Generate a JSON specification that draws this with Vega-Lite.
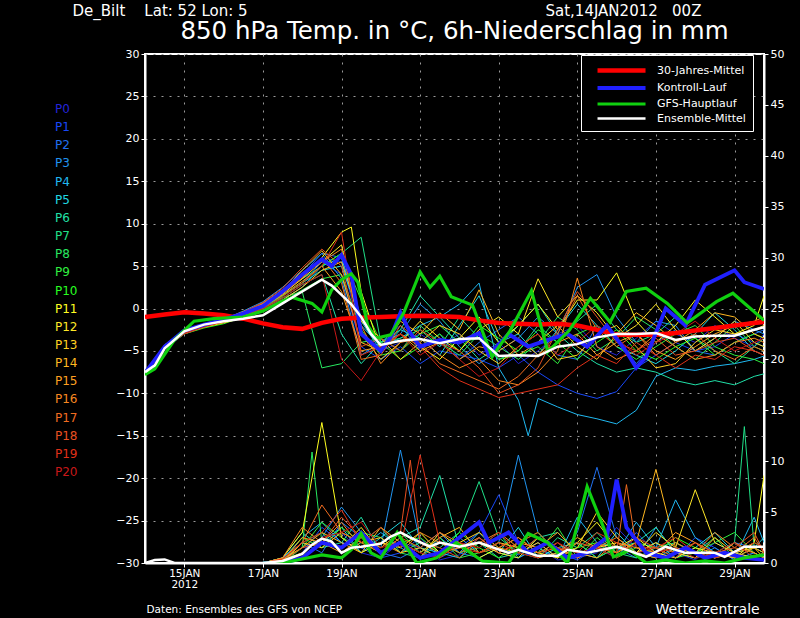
{
  "$schema": "https://vega.github.io/schema/vega-lite/v6.json",
  "width": 619,
  "height": 509,
  "autosize": {"type": "none"},
  "padding": {"left": 145, "top": 54, "right": 36, "bottom": 55},
  "background": "black",
  "config": {
    "view": {"stroke": "white", "strokeWidth": 2},
    "font": "DejaVu Sans",
    "axis": {
      "labelColor": "white", "tickColor": "white", "domainColor": "white", "domainWidth": 2,
      "tickSize": 4, "labelFontSize": 11, "labelPadding": 2, "titleColor": "white",
      "titleFontWeight": "normal", "gridColor": "#9a9a9a", "gridDash": [2, 6], "gridWidth": 1
    },
    "legend": {"labelColor": "white", "labelFont": "DejaVu Sans"}
  },
  "title": {
    "text": "850 hPa Temp. in °C, 6h-Niederschlag in mm",
    "color": "white", "fontSize": 24.5, "fontWeight": "normal", "font": "DejaVu Sans",
    "anchor": "middle", "frame": "group", "baseline": "alphabetic", "offset": 0, "dy": 60
  },
  "datasets": {
    "members": [
      {"m":"P0","h":0,"t":-7.6},{"m":"P0","h":12,"t":-4.6},{"m":"P0","h":24,"t":-2.7},{"m":"P0","h":36,"t":-1.9},{"m":"P0","h":48,"t":-1.2},{"m":"P0","h":60,"t":-0.5},{"m":"P0","h":72,"t":0.3,"p":0},{"m":"P0","h":84,"t":1.8,"p":0.3},{"m":"P0","h":96,"t":3.5,"p":1.5},{"m":"P0","h":108,"t":6,"p":2},{"m":"P0","h":120,"t":5.5,"p":3},{"m":"P0","h":132,"t":-3,"p":1},{"m":"P0","h":144,"t":-5,"p":0.5},{"m":"P0","h":156,"t":-4,"p":2},{"m":"P0","h":168,"t":-3,"p":1.5},{"m":"P0","h":180,"t":-4.5,"p":0.3},{"m":"P0","h":192,"t":-3,"p":0.8},{"m":"P0","h":204,"t":-5.5,"p":2.5},{"m":"P0","h":216,"t":-4,"p":1},{"m":"P0","h":228,"t":-6.5,"p":0.5},{"m":"P0","h":240,"t":-5,"p":1.5},{"m":"P0","h":252,"t":-3,"p":0.3},{"m":"P0","h":264,"t":-2,"p":0.5},{"m":"P0","h":276,"t":-4.5,"p":1},{"m":"P0","h":288,"t":-5.5,"p":3.5},{"m":"P0","h":300,"t":-3.5,"p":1.5},{"m":"P0","h":312,"t":-1.5,"p":0.5},{"m":"P0","h":324,"t":-3,"p":1},{"m":"P0","h":336,"t":-4,"p":0.3},{"m":"P0","h":348,"t":-2,"p":2},{"m":"P0","h":360,"t":-3.5,"p":1},{"m":"P0","h":372,"t":-4.5,"p":0.5},{"m":"P0","h":378,"t":-3,"p":0.3},
      {"m":"P1","h":0,"t":-7.6},{"m":"P1","h":12,"t":-4.4},{"m":"P1","h":24,"t":-2.9},{"m":"P1","h":36,"t":-2.1},{"m":"P1","h":48,"t":-1.5},{"m":"P1","h":60,"t":-0.8},{"m":"P1","h":72,"t":0,"p":0},{"m":"P1","h":84,"t":1.5,"p":0},{"m":"P1","h":96,"t":3,"p":1},{"m":"P1","h":108,"t":5.5,"p":3.5},{"m":"P1","h":120,"t":4,"p":2},{"m":"P1","h":132,"t":-4.5,"p":1.5},{"m":"P1","h":144,"t":-6,"p":0.5},{"m":"P1","h":156,"t":-4.5,"p":1},{"m":"P1","h":168,"t":-6.5,"p":2.5},{"m":"P1","h":180,"t":-5,"p":0.5},{"m":"P1","h":192,"t":-5.5,"p":1.5},{"m":"P1","h":204,"t":-6,"p":3},{"m":"P1","h":216,"t":-7,"p":6.7},{"m":"P1","h":228,"t":-5.5,"p":2},{"m":"P1","h":240,"t":-7.5,"p":0.5},{"m":"P1","h":252,"t":-9,"p":1},{"m":"P1","h":264,"t":-10,"p":0.3},{"m":"P1","h":276,"t":-10.6,"p":1.5},{"m":"P1","h":288,"t":-9.8,"p":0.5},{"m":"P1","h":300,"t":-7,"p":3},{"m":"P1","h":312,"t":-5.5,"p":1},{"m":"P1","h":324,"t":-4,"p":0.5},{"m":"P1","h":336,"t":-5,"p":2.5},{"m":"P1","h":348,"t":-4.5,"p":1.5},{"m":"P1","h":360,"t":-3,"p":0.3},{"m":"P1","h":372,"t":-4,"p":1},{"m":"P1","h":378,"t":-4.5,"p":0.5},
      {"m":"P2","h":0,"t":-7.7},{"m":"P2","h":12,"t":-4.8},{"m":"P2","h":24,"t":-3},{"m":"P2","h":36,"t":-2.2},{"m":"P2","h":48,"t":-1.4},{"m":"P2","h":60,"t":-0.6},{"m":"P2","h":72,"t":0.5,"p":0},{"m":"P2","h":84,"t":2,"p":0.5},{"m":"P2","h":96,"t":4,"p":2},{"m":"P2","h":108,"t":6.5,"p":1},{"m":"P2","h":120,"t":6,"p":4},{"m":"P2","h":132,"t":-1,"p":2.5},{"m":"P2","h":144,"t":-4,"p":1},{"m":"P2","h":156,"t":-2,"p":0.5},{"m":"P2","h":168,"t":-5,"p":1.5},{"m":"P2","h":180,"t":-3,"p":3},{"m":"P2","h":192,"t":-6,"p":1},{"m":"P2","h":204,"t":-4,"p":0.5},{"m":"P2","h":216,"t":-2.5,"p":1.5},{"m":"P2","h":228,"t":-1,"p":0.8},{"m":"P2","h":240,"t":-3,"p":2},{"m":"P2","h":252,"t":-5.5,"p":0.5},{"m":"P2","h":264,"t":-6,"p":3},{"m":"P2","h":276,"t":-2,"p":9.4},{"m":"P2","h":288,"t":-3.5,"p":2.5},{"m":"P2","h":300,"t":-6.5,"p":1},{"m":"P2","h":312,"t":-4,"p":0.5},{"m":"P2","h":324,"t":-2.5,"p":1.5},{"m":"P2","h":336,"t":-5,"p":1},{"m":"P2","h":348,"t":-5.5,"p":0.5},{"m":"P2","h":360,"t":-4,"p":2},{"m":"P2","h":372,"t":-3,"p":1.5},{"m":"P2","h":378,"t":-2.5,"p":1},
      {"m":"P3","h":0,"t":-7.5},{"m":"P3","h":12,"t":-4.3},{"m":"P3","h":24,"t":-2.6},{"m":"P3","h":36,"t":-1.8},{"m":"P3","h":48,"t":-1.3},{"m":"P3","h":60,"t":-0.3},{"m":"P3","h":72,"t":0.8,"p":0},{"m":"P3","h":84,"t":2.5,"p":0.2},{"m":"P3","h":96,"t":4.5,"p":1},{"m":"P3","h":108,"t":6.5,"p":2.5},{"m":"P3","h":120,"t":3.5,"p":5.5},{"m":"P3","h":132,"t":-5.5,"p":3},{"m":"P3","h":144,"t":-4,"p":1.5},{"m":"P3","h":156,"t":-3,"p":11.1},{"m":"P3","h":168,"t":0.5,"p":2},{"m":"P3","h":180,"t":-1.5,"p":1},{"m":"P3","h":192,"t":-4.5,"p":2.5},{"m":"P3","h":204,"t":-6.5,"p":1},{"m":"P3","h":216,"t":-5,"p":2},{"m":"P3","h":228,"t":-3.5,"p":10.6},{"m":"P3","h":240,"t":-1,"p":3},{"m":"P3","h":252,"t":-3,"p":1},{"m":"P3","h":264,"t":2.5,"p":0.5},{"m":"P3","h":276,"t":4,"p":2},{"m":"P3","h":288,"t":-1,"p":1.5},{"m":"P3","h":300,"t":-4,"p":0.5},{"m":"P3","h":312,"t":-1.5,"p":3.5},{"m":"P3","h":324,"t":-2,"p":1},{"m":"P3","h":336,"t":-5,"p":0.5},{"m":"P3","h":348,"t":-3.5,"p":1.5},{"m":"P3","h":360,"t":-1.5,"p":0.3},{"m":"P3","h":372,"t":-2.5,"p":1},{"m":"P3","h":378,"t":-3,"p":0.5},
      {"m":"P4","h":0,"t":-7.6},{"m":"P4","h":12,"t":-4.5},{"m":"P4","h":24,"t":-2.8},{"m":"P4","h":36,"t":-2},{"m":"P4","h":48,"t":-1.6},{"m":"P4","h":60,"t":-1},{"m":"P4","h":72,"t":-0.2,"p":0},{"m":"P4","h":84,"t":1,"p":0.4},{"m":"P4","h":96,"t":2.5,"p":2.5},{"m":"P4","h":108,"t":5,"p":4},{"m":"P4","h":120,"t":6,"p":2},{"m":"P4","h":132,"t":-2,"p":1.5},{"m":"P4","h":144,"t":-4.5,"p":3},{"m":"P4","h":156,"t":-3.5,"p":1.5},{"m":"P4","h":168,"t":-2,"p":0.5},{"m":"P4","h":180,"t":-1,"p":2.5},{"m":"P4","h":192,"t":0.5,"p":1},{"m":"P4","h":204,"t":3,"p":3},{"m":"P4","h":216,"t":-7,"p":1},{"m":"P4","h":228,"t":-10.8,"p":0.5},{"m":"P4","h":234,"t":-15},{"m":"P4","h":240,"t":-10.6,"p":1.5},{"m":"P4","h":252,"t":-11.6,"p":0.5},{"m":"P4","h":264,"t":-12.5,"p":4.5},{"m":"P4","h":276,"t":-13,"p":2},{"m":"P4","h":288,"t":-13.6,"p":1},{"m":"P4","h":300,"t":-12,"p":4},{"m":"P4","h":312,"t":-8,"p":1.5},{"m":"P4","h":324,"t":-7,"p":6.2},{"m":"P4","h":336,"t":-7.3,"p":2.5},{"m":"P4","h":348,"t":-6.8,"p":1},{"m":"P4","h":360,"t":-6.5,"p":0.5},{"m":"P4","h":372,"t":-6,"p":4.5},{"m":"P4","h":378,"t":-5.6,"p":2},
      {"m":"P5","h":0,"t":-7.6},{"m":"P5","h":12,"t":-4.7},{"m":"P5","h":24,"t":-2.9},{"m":"P5","h":36,"t":-2},{"m":"P5","h":48,"t":-1.3},{"m":"P5","h":60,"t":-0.7},{"m":"P5","h":72,"t":0.2,"p":0},{"m":"P5","h":84,"t":1.5,"p":0},{"m":"P5","h":96,"t":3,"p":0.5},{"m":"P5","h":108,"t":4.5,"p":2},{"m":"P5","h":120,"t":5,"p":3.5},{"m":"P5","h":132,"t":-1.5,"p":1},{"m":"P5","h":144,"t":-5,"p":2.5},{"m":"P5","h":156,"t":-2.5,"p":4},{"m":"P5","h":168,"t":-3.5,"p":1.5},{"m":"P5","h":180,"t":-5.5,"p":1},{"m":"P5","h":192,"t":-2,"p":0.5},{"m":"P5","h":204,"t":1.5,"p":2},{"m":"P5","h":216,"t":-4,"p":1},{"m":"P5","h":228,"t":-3,"p":3.5},{"m":"P5","h":240,"t":-5.5,"p":0.5},{"m":"P5","h":252,"t":-2.5,"p":1.5},{"m":"P5","h":264,"t":0.5,"p":2},{"m":"P5","h":276,"t":-2,"p":0.5},{"m":"P5","h":288,"t":-4.5,"p":3},{"m":"P5","h":300,"t":-5.5,"p":1},{"m":"P5","h":312,"t":-6.5,"p":2},{"m":"P5","h":324,"t":-5,"p":0.5},{"m":"P5","h":336,"t":-3,"p":1.5},{"m":"P5","h":348,"t":-0.5,"p":3},{"m":"P5","h":360,"t":-2.5,"p":1},{"m":"P5","h":372,"t":-5,"p":1.5},{"m":"P5","h":378,"t":-5.5,"p":2.5},
      {"m":"P6","h":0,"t":-7.7},{"m":"P6","h":12,"t":-4.5},{"m":"P6","h":24,"t":-2.8},{"m":"P6","h":36,"t":-1.9},{"m":"P6","h":48,"t":-1.4},{"m":"P6","h":60,"t":-0.9},{"m":"P6","h":72,"t":0,"p":0},{"m":"P6","h":84,"t":1.2,"p":0.5},{"m":"P6","h":96,"t":2.8,"p":3},{"m":"P6","h":108,"t":4,"p":1.5},{"m":"P6","h":120,"t":-3,"p":2},{"m":"P6","h":132,"t":-6.5,"p":4.5},{"m":"P6","h":144,"t":-4,"p":1},{"m":"P6","h":156,"t":-2.5,"p":2.5},{"m":"P6","h":168,"t":1.5,"p":3.5},{"m":"P6","h":180,"t":-1,"p":8.6},{"m":"P6","h":192,"t":-3.5,"p":1.5},{"m":"P6","h":204,"t":-6,"p":2},{"m":"P6","h":216,"t":-4.5,"p":0.5},{"m":"P6","h":228,"t":-2,"p":1},{"m":"P6","h":240,"t":0.5,"p":2.5},{"m":"P6","h":252,"t":-3,"p":3},{"m":"P6","h":264,"t":-5,"p":1},{"m":"P6","h":276,"t":-6.5,"p":0.5},{"m":"P6","h":288,"t":-7.5,"p":1.5},{"m":"P6","h":300,"t":-7,"p":2},{"m":"P6","h":312,"t":-7.5,"p":3.5},{"m":"P6","h":324,"t":-8.5,"p":1},{"m":"P6","h":336,"t":-9,"p":0.5},{"m":"P6","h":348,"t":-8.5,"p":1},{"m":"P6","h":360,"t":-9,"p":2},{"m":"P6","h":372,"t":-8,"p":0.5},{"m":"P6","h":378,"t":-7.7,"p":1},
      {"m":"P7","h":0,"t":-7.6},{"m":"P7","h":12,"t":-4.4},{"m":"P7","h":24,"t":-2.7},{"m":"P7","h":36,"t":-2},{"m":"P7","h":48,"t":-1.5},{"m":"P7","h":60,"t":-0.6},{"m":"P7","h":72,"t":0.6,"p":0},{"m":"P7","h":84,"t":2.2,"p":0.2},{"m":"P7","h":96,"t":3.5,"p":2},{"m":"P7","h":108,"t":5,"p":3},{"m":"P7","h":120,"t":6.5,"p":1},{"m":"P7","h":132,"t":8.4,"p":2},{"m":"P7","h":144,"t":-4,"p":3.5},{"m":"P7","h":156,"t":-3.5,"p":1},{"m":"P7","h":168,"t":-2.5,"p":2},{"m":"P7","h":180,"t":-4.5,"p":1.5},{"m":"P7","h":192,"t":-1,"p":3},{"m":"P7","h":204,"t":-3.5,"p":8},{"m":"P7","h":216,"t":-6,"p":2.5},{"m":"P7","h":228,"t":-5,"p":1},{"m":"P7","h":240,"t":-2,"p":0.5},{"m":"P7","h":252,"t":-4,"p":2.5},{"m":"P7","h":264,"t":-1.5,"p":1.5},{"m":"P7","h":276,"t":0.5,"p":3},{"m":"P7","h":288,"t":-2.5,"p":1},{"m":"P7","h":300,"t":-4,"p":0.5},{"m":"P7","h":312,"t":-3,"p":1.5},{"m":"P7","h":324,"t":-1,"p":2},{"m":"P7","h":336,"t":-3.5,"p":1},{"m":"P7","h":348,"t":-5,"p":0.5},{"m":"P7","h":360,"t":-6.5,"p":2},{"m":"P7","h":366,"p":13.4},{"m":"P7","h":372,"t":-4.5,"p":1.5},{"m":"P7","h":378,"t":-3.5,"p":1},
      {"m":"P8","h":0,"t":-7.6},{"m":"P8","h":12,"t":-4.6},{"m":"P8","h":24,"t":-2.9},{"m":"P8","h":36,"t":-2.1},{"m":"P8","h":48,"t":-1.6},{"m":"P8","h":60,"t":-0.8},{"m":"P8","h":72,"t":0.2,"p":0},{"m":"P8","h":84,"t":1.3,"p":0.3},{"m":"P8","h":96,"t":2,"p":1.5},{"m":"P8","h":102,"p":10.9},{"m":"P8","h":108,"t":-7,"p":2},{"m":"P8","h":120,"t":-6.5,"p":1.5},{"m":"P8","h":132,"t":-4,"p":3},{"m":"P8","h":144,"t":-3.5,"p":2.5},{"m":"P8","h":156,"t":-5,"p":1},{"m":"P8","h":168,"t":-2,"p":0.5},{"m":"P8","h":180,"t":-4,"p":2},{"m":"P8","h":192,"t":-5.5,"p":1},{"m":"P8","h":204,"t":-3,"p":1.5},{"m":"P8","h":216,"t":-4.5,"p":3},{"m":"P8","h":228,"t":-6,"p":0.5},{"m":"P8","h":240,"t":-4,"p":2.5},{"m":"P8","h":252,"t":-1,"p":1},{"m":"P8","h":264,"t":-2.5,"p":2},{"m":"P8","h":276,"t":-5,"p":0.5},{"m":"P8","h":288,"t":-3.5,"p":1.5},{"m":"P8","h":300,"t":-1,"p":1},{"m":"P8","h":312,"t":-2.5,"p":0.5},{"m":"P8","h":324,"t":-4.5,"p":2},{"m":"P8","h":336,"t":-6,"p":1},{"m":"P8","h":348,"t":-4,"p":2.5},{"m":"P8","h":360,"t":-2,"p":0.5},{"m":"P8","h":372,"t":-4.5,"p":1.5},{"m":"P8","h":378,"t":-5,"p":1},
      {"m":"P9","h":0,"t":-7.6},{"m":"P9","h":12,"t":-4.5},{"m":"P9","h":24,"t":-2.8},{"m":"P9","h":36,"t":-2},{"m":"P9","h":48,"t":-1.5},{"m":"P9","h":60,"t":-1},{"m":"P9","h":72,"t":-0.3,"p":0},{"m":"P9","h":84,"t":0.8,"p":0},{"m":"P9","h":96,"t":2.2,"p":1.5},{"m":"P9","h":108,"t":3.5,"p":4},{"m":"P9","h":120,"t":4,"p":2.5},{"m":"P9","h":132,"t":-2.5,"p":1.5},{"m":"P9","h":144,"t":-5.5,"p":2},{"m":"P9","h":156,"t":-5,"p":3},{"m":"P9","h":168,"t":-3,"p":1},{"m":"P9","h":180,"t":-2,"p":2.5},{"m":"P9","h":192,"t":-4,"p":0.5},{"m":"P9","h":204,"t":-3.5,"p":1},{"m":"P9","h":216,"t":-6,"p":2},{"m":"P9","h":228,"t":-5.5,"p":1.5},{"m":"P9","h":240,"t":-4.5,"p":1},{"m":"P9","h":252,"t":-6.5,"p":3.5},{"m":"P9","h":264,"t":-3,"p":0.5},{"m":"P9","h":276,"t":-2,"p":2.5},{"m":"P9","h":288,"t":-4.5,"p":1},{"m":"P9","h":300,"t":-6,"p":2},{"m":"P9","h":312,"t":-4.5,"p":1.5},{"m":"P9","h":324,"t":-3,"p":0.5},{"m":"P9","h":336,"t":-2,"p":1},{"m":"P9","h":348,"t":-4.5,"p":2},{"m":"P9","h":360,"t":-5.5,"p":3},{"m":"P9","h":372,"t":-6,"p":1},{"m":"P9","h":378,"t":-6.5,"p":0.5},
      {"m":"P10","h":0,"t":-7.7},{"m":"P10","h":12,"t":-4.7},{"m":"P10","h":24,"t":-3},{"m":"P10","h":36,"t":-2.3},{"m":"P10","h":48,"t":-1.8},{"m":"P10","h":60,"t":-1},{"m":"P10","h":72,"t":0,"p":0},{"m":"P10","h":84,"t":1.5,"p":0.2},{"m":"P10","h":96,"t":3,"p":2.5},{"m":"P10","h":108,"t":5,"p":1.5},{"m":"P10","h":120,"t":6.5,"p":3.5},{"m":"P10","h":132,"t":1,"p":2},{"m":"P10","h":144,"t":-4,"p":1},{"m":"P10","h":156,"t":-6,"p":2},{"m":"P10","h":168,"t":-4.5,"p":2.5},{"m":"P10","h":180,"t":-3,"p":1},{"m":"P10","h":192,"t":-5,"p":3},{"m":"P10","h":204,"t":-2,"p":1.5},{"m":"P10","h":216,"t":-3.5,"p":0.5},{"m":"P10","h":228,"t":-5,"p":2},{"m":"P10","h":240,"t":-2.5,"p":3},{"m":"P10","h":252,"t":-4,"p":1},{"m":"P10","h":264,"t":-6,"p":1.5},{"m":"P10","h":276,"t":-4,"p":2},{"m":"P10","h":288,"t":-2.5,"p":0.5},{"m":"P10","h":300,"t":-5,"p":1.5},{"m":"P10","h":312,"t":-6,"p":1},{"m":"P10","h":324,"t":-4.5,"p":2.5},{"m":"P10","h":336,"t":-3.5,"p":1.5},{"m":"P10","h":348,"t":-5.5,"p":0.5},{"m":"P10","h":360,"t":-4,"p":1},{"m":"P10","h":372,"t":-3,"p":2},{"m":"P10","h":378,"t":-3.5,"p":1.5},
      {"m":"P11","h":0,"t":-7.6},{"m":"P11","h":12,"t":-4.3},{"m":"P11","h":24,"t":-2.6},{"m":"P11","h":36,"t":-1.8},{"m":"P11","h":48,"t":-1.3},{"m":"P11","h":60,"t":-0.4},{"m":"P11","h":72,"t":0.5,"p":0},{"m":"P11","h":84,"t":2,"p":0.5},{"m":"P11","h":96,"t":3.8,"p":3},{"m":"P11","h":108,"t":6,"p":13.8},{"m":"P11","h":120,"t":9,"p":2.5},{"m":"P11","h":126,"t":9.6},{"m":"P11","h":132,"t":2,"p":1},{"m":"P11","h":144,"t":-5,"p":2},{"m":"P11","h":156,"t":-3,"p":1.5},{"m":"P11","h":168,"t":-4.5,"p":3},{"m":"P11","h":180,"t":-6,"p":1},{"m":"P11","h":192,"t":-3.5,"p":2},{"m":"P11","h":204,"t":-1,"p":0.5},{"m":"P11","h":216,"t":-4,"p":1.5},{"m":"P11","h":228,"t":-2,"p":2.5},{"m":"P11","h":240,"t":0.5,"p":1},{"m":"P11","h":252,"t":-2.5,"p":0.5},{"m":"P11","h":264,"t":1,"p":2},{"m":"P11","h":276,"t":1,"p":4},{"m":"P11","h":288,"t":4.2,"p":1.5},{"m":"P11","h":300,"t":-1.5,"p":2.5},{"m":"P11","h":312,"t":-4,"p":1},{"m":"P11","h":324,"t":-2,"p":0.5},{"m":"P11","h":336,"t":1,"p":1.5},{"m":"P11","h":348,"t":-1,"p":1},{"m":"P11","h":360,"t":-3,"p":0.5},{"m":"P11","h":372,"t":-2,"p":2},{"m":"P11","h":378,"t":1.5,"p":8.6},
      {"m":"P12","h":0,"t":-7.5},{"m":"P12","h":12,"t":-4.5},{"m":"P12","h":24,"t":-2.8},{"m":"P12","h":36,"t":-2.1},{"m":"P12","h":48,"t":-1.6},{"m":"P12","h":60,"t":-0.9},{"m":"P12","h":72,"t":0.3,"p":0},{"m":"P12","h":84,"t":1.7,"p":0.3},{"m":"P12","h":96,"t":3.5,"p":1},{"m":"P12","h":108,"t":5.5,"p":2.5},{"m":"P12","h":120,"t":7.5,"p":1.5},{"m":"P12","h":132,"t":-3,"p":3.5},{"m":"P12","h":144,"t":-6,"p":1},{"m":"P12","h":156,"t":-4,"p":2},{"m":"P12","h":168,"t":-1.5,"p":0.5},{"m":"P12","h":180,"t":-3.5,"p":3},{"m":"P12","h":192,"t":-5,"p":1.5},{"m":"P12","h":204,"t":-2.5,"p":2},{"m":"P12","h":216,"t":-1,"p":1},{"m":"P12","h":228,"t":-3,"p":0.5},{"m":"P12","h":240,"t":3.5,"p":2.5},{"m":"P12","h":252,"t":-1,"p":1.5},{"m":"P12","h":264,"t":1.5,"p":0.5},{"m":"P12","h":276,"t":-0.5,"p":1.5},{"m":"P12","h":288,"t":-3.5,"p":2},{"m":"P12","h":300,"t":-2,"p":1},{"m":"P12","h":312,"t":0.5,"p":3},{"m":"P12","h":324,"t":-2.5,"p":1.5},{"m":"P12","h":336,"t":-5,"p":7.2},{"m":"P12","h":348,"t":-3.5,"p":2},{"m":"P12","h":360,"t":-1.5,"p":1},{"m":"P12","h":372,"t":-4,"p":0.5},{"m":"P12","h":378,"t":-4.5,"p":1},
      {"m":"P13","h":0,"t":-7.6},{"m":"P13","h":12,"t":-4.6},{"m":"P13","h":24,"t":-2.9},{"m":"P13","h":36,"t":-2.2},{"m":"P13","h":48,"t":-1.7},{"m":"P13","h":60,"t":-1.1},{"m":"P13","h":72,"t":-0.2,"p":0},{"m":"P13","h":84,"t":1,"p":0},{"m":"P13","h":96,"t":2.5,"p":2},{"m":"P13","h":108,"t":4.5,"p":1.5},{"m":"P13","h":120,"t":5.5,"p":3},{"m":"P13","h":132,"t":-1.5,"p":2},{"m":"P13","h":144,"t":-3.5,"p":2.5},{"m":"P13","h":156,"t":-6,"p":1},{"m":"P13","h":168,"t":-4,"p":1.5},{"m":"P13","h":180,"t":-2,"p":0.5},{"m":"P13","h":192,"t":-3,"p":2},{"m":"P13","h":204,"t":-5,"p":3},{"m":"P13","h":216,"t":-6.5,"p":1.5},{"m":"P13","h":228,"t":-4.5,"p":1},{"m":"P13","h":240,"t":-3,"p":2},{"m":"P13","h":252,"t":-6,"p":0.5},{"m":"P13","h":264,"t":-5.5,"p":1.5},{"m":"P13","h":276,"t":-3,"p":5},{"m":"P13","h":288,"t":-2,"p":2.5},{"m":"P13","h":300,"t":-4.5,"p":1},{"m":"P13","h":312,"t":-7,"p":2},{"m":"P13","h":324,"t":-6.5,"p":1},{"m":"P13","h":336,"t":-4,"p":0.5},{"m":"P13","h":348,"t":-2.5,"p":2.5},{"m":"P13","h":360,"t":-3,"p":1},{"m":"P13","h":372,"t":-2.5,"p":1.5},{"m":"P13","h":378,"t":-2,"p":0.5},
      {"m":"P14","h":0,"t":-7.6},{"m":"P14","h":12,"t":-4.4},{"m":"P14","h":24,"t":-2.7},{"m":"P14","h":36,"t":-1.9},{"m":"P14","h":48,"t":-1.4},{"m":"P14","h":60,"t":-0.7},{"m":"P14","h":72,"t":0.4,"p":0},{"m":"P14","h":84,"t":2,"p":0.4},{"m":"P14","h":96,"t":4.5,"p":1.5},{"m":"P14","h":108,"t":6.8,"p":3},{"m":"P14","h":120,"t":4,"p":2},{"m":"P14","h":132,"t":-4,"p":1},{"m":"P14","h":144,"t":-5,"p":3.5},{"m":"P14","h":156,"t":-1.5,"p":2},{"m":"P14","h":168,"t":-3,"p":1},{"m":"P14","h":180,"t":-0.5,"p":2.5},{"m":"P14","h":192,"t":-2.5,"p":3.5},{"m":"P14","h":204,"t":2.2,"p":1},{"m":"P14","h":216,"t":-3,"p":2},{"m":"P14","h":228,"t":-5.5,"p":1.5},{"m":"P14","h":240,"t":-4,"p":0.5},{"m":"P14","h":252,"t":-2,"p":1},{"m":"P14","h":264,"t":-4.5,"p":2.5},{"m":"P14","h":276,"t":-6,"p":1.5},{"m":"P14","h":288,"t":-3,"p":1},{"m":"P14","h":300,"t":-0.5,"p":2},{"m":"P14","h":312,"t":-2,"p":9.2},{"m":"P14","h":324,"t":-4,"p":1.5},{"m":"P14","h":336,"t":-2.5,"p":1},{"m":"P14","h":348,"t":-0.5,"p":0.5},{"m":"P14","h":360,"t":-1,"p":2},{"m":"P14","h":372,"t":-3,"p":1},{"m":"P14","h":378,"t":-3.5,"p":0.5},
      {"m":"P15","h":0,"t":-7.7},{"m":"P15","h":12,"t":-4.5},{"m":"P15","h":24,"t":-2.8},{"m":"P15","h":36,"t":-2},{"m":"P15","h":48,"t":-1.5},{"m":"P15","h":60,"t":-0.8},{"m":"P15","h":72,"t":0.2,"p":0},{"m":"P15","h":84,"t":1.6,"p":0.2},{"m":"P15","h":96,"t":3.2,"p":2.5},{"m":"P15","h":108,"t":5,"p":2},{"m":"P15","h":120,"t":2,"p":1},{"m":"P15","h":132,"t":-5,"p":2.5},{"m":"P15","h":144,"t":-4.5,"p":1.5},{"m":"P15","h":156,"t":-3,"p":3},{"m":"P15","h":168,"t":-5,"p":2},{"m":"P15","h":180,"t":-4,"p":1},{"m":"P15","h":192,"t":-6,"p":1.5},{"m":"P15","h":204,"t":-4.5,"p":2.5},{"m":"P15","h":216,"t":-5,"p":1},{"m":"P15","h":228,"t":-3.5,"p":2},{"m":"P15","h":240,"t":-5.5,"p":1.5},{"m":"P15","h":252,"t":-4,"p":3},{"m":"P15","h":264,"t":-3,"p":1},{"m":"P15","h":276,"t":-5.5,"p":0.5},{"m":"P15","h":288,"t":-4,"p":2},{"m":"P15","h":300,"t":-3,"p":1.5},{"m":"P15","h":312,"t":-5,"p":1},{"m":"P15","h":324,"t":-6,"p":3},{"m":"P15","h":336,"t":-4.5,"p":2},{"m":"P15","h":348,"t":-3,"p":1},{"m":"P15","h":360,"t":-2,"p":0.5},{"m":"P15","h":372,"t":-1.5,"p":1.5},{"m":"P15","h":378,"t":-1,"p":1},
      {"m":"P16","h":0,"t":-7.6},{"m":"P16","h":12,"t":-4.6},{"m":"P16","h":24,"t":-2.9},{"m":"P16","h":36,"t":-2.1},{"m":"P16","h":48,"t":-1.4},{"m":"P16","h":60,"t":-0.5},{"m":"P16","h":72,"t":0.6,"p":0},{"m":"P16","h":84,"t":2.2,"p":0.5},{"m":"P16","h":96,"t":4,"p":3.5},{"m":"P16","h":108,"t":5.5,"p":2},{"m":"P16","h":120,"t":7,"p":4},{"m":"P16","h":132,"t":-2,"p":1.5},{"m":"P16","h":144,"t":-6.5,"p":2},{"m":"P16","h":156,"t":-4,"p":1},{"m":"P16","h":168,"t":-3.5,"p":3},{"m":"P16","h":180,"t":-5.5,"p":2},{"m":"P16","h":192,"t":-7,"p":1},{"m":"P16","h":204,"t":-6,"p":2},{"m":"P16","h":216,"t":-8.5,"p":3},{"m":"P16","h":228,"t":-9,"p":1.5},{"m":"P16","h":240,"t":-7.5,"p":1},{"m":"P16","h":252,"t":-5,"p":2},{"m":"P16","h":264,"t":3.6,"p":0.5},{"m":"P16","h":276,"t":-4.5,"p":1.5},{"m":"P16","h":288,"t":-6,"p":2.5},{"m":"P16","h":300,"t":-5,"p":1},{"m":"P16","h":312,"t":-3,"p":0.5},{"m":"P16","h":324,"t":-4.5,"p":2},{"m":"P16","h":336,"t":-6,"p":1},{"m":"P16","h":348,"t":-5.5,"p":3},{"m":"P16","h":360,"t":-4,"p":1.5},{"m":"P16","h":372,"t":-3.5,"p":1},{"m":"P16","h":378,"t":-4,"p":0.5},
      {"m":"P17","h":0,"t":-7.6},{"m":"P17","h":12,"t":-4.5},{"m":"P17","h":24,"t":-2.8},{"m":"P17","h":36,"t":-2},{"m":"P17","h":48,"t":-1.3},{"m":"P17","h":60,"t":-0.6},{"m":"P17","h":72,"t":0.3,"p":0},{"m":"P17","h":84,"t":1.8,"p":0.3},{"m":"P17","h":96,"t":3.6,"p":2},{"m":"P17","h":108,"t":6,"p":5.7},{"m":"P17","h":120,"t":3,"p":3},{"m":"P17","h":132,"t":-6,"p":2},{"m":"P17","h":144,"t":-5.5,"p":1},{"m":"P17","h":156,"t":-2,"p":2.5},{"m":"P17","h":168,"t":-4,"p":1.5},{"m":"P17","h":180,"t":-6.5,"p":3},{"m":"P17","h":192,"t":-7.5,"p":2},{"m":"P17","h":204,"t":-8.5,"p":1},{"m":"P17","h":216,"t":-9.5,"p":1.5},{"m":"P17","h":228,"t":-8,"p":2.5},{"m":"P17","h":240,"t":-5.5,"p":1},{"m":"P17","h":252,"t":-3,"p":1.5},{"m":"P17","h":264,"t":1.5,"p":0.5},{"m":"P17","h":276,"t":-2.5,"p":2},{"m":"P17","h":288,"t":-4.5,"p":1},{"m":"P17","h":294,"p":7.7},{"m":"P17","h":300,"t":-3,"p":1.5},{"m":"P17","h":312,"t":-5.5,"p":1.5},{"m":"P17","h":324,"t":-4,"p":1},{"m":"P17","h":336,"t":-3,"p":2},{"m":"P17","h":348,"t":-5,"p":0.5},{"m":"P17","h":360,"t":-6,"p":1},{"m":"P17","h":372,"t":-4.5,"p":2.5},{"m":"P17","h":378,"t":-5,"p":1},
      {"m":"P18","h":0,"t":-7.6},{"m":"P18","h":12,"t":-4.4},{"m":"P18","h":24,"t":-2.7},{"m":"P18","h":36,"t":-1.9},{"m":"P18","h":48,"t":-1.2},{"m":"P18","h":60,"t":-0.4},{"m":"P18","h":72,"t":0.7,"p":0},{"m":"P18","h":84,"t":2.4,"p":0.2},{"m":"P18","h":96,"t":4.8,"p":1.5},{"m":"P18","h":108,"t":7,"p":2},{"m":"P18","h":120,"t":5,"p":4.5},{"m":"P18","h":132,"t":-4.5,"p":2.5},{"m":"P18","h":144,"t":-3.5,"p":1},{"m":"P18","h":156,"t":-5,"p":3},{"m":"P18","h":162,"p":10.1},{"m":"P18","h":168,"t":-2.5,"p":2},{"m":"P18","h":180,"t":-4,"p":1.5},{"m":"P18","h":192,"t":-5,"p":0.5},{"m":"P18","h":204,"t":-7,"p":2.5},{"m":"P18","h":216,"t":-10,"p":1},{"m":"P18","h":228,"t":-9,"p":2},{"m":"P18","h":240,"t":-7,"p":3},{"m":"P18","h":252,"t":-2.5,"p":1},{"m":"P18","h":264,"t":2,"p":2},{"m":"P18","h":276,"t":-1,"p":1.5},{"m":"P18","h":288,"t":-4,"p":1},{"m":"P18","h":300,"t":-5,"p":2.5},{"m":"P18","h":312,"t":-3.5,"p":1.5},{"m":"P18","h":324,"t":-5.5,"p":0.5},{"m":"P18","h":336,"t":-5,"p":2},{"m":"P18","h":348,"t":-4,"p":1},{"m":"P18","h":360,"t":-3.5,"p":1.5},{"m":"P18","h":372,"t":-5,"p":3},{"m":"P18","h":378,"t":-5.5,"p":1},
      {"m":"P19","h":0,"t":-7.7},{"m":"P19","h":12,"t":-4.7},{"m":"P19","h":24,"t":-3},{"m":"P19","h":36,"t":-2.2},{"m":"P19","h":48,"t":-1.5},{"m":"P19","h":60,"t":-0.8},{"m":"P19","h":72,"t":0,"p":0},{"m":"P19","h":84,"t":1.4,"p":0.4},{"m":"P19","h":96,"t":3,"p":2},{"m":"P19","h":108,"t":5,"p":3},{"m":"P19","h":120,"t":9,"p":5.2},{"m":"P19","h":132,"t":-5.5,"p":2},{"m":"P19","h":144,"t":-4.5,"p":3.5},{"m":"P19","h":156,"t":-3,"p":1.5},{"m":"P19","h":168,"t":-4.5,"p":10.6},{"m":"P19","h":180,"t":-7,"p":2},{"m":"P19","h":192,"t":-8.5,"p":1.5},{"m":"P19","h":204,"t":-9.5,"p":1},{"m":"P19","h":216,"t":-10.5,"p":2},{"m":"P19","h":228,"t":-10,"p":1},{"m":"P19","h":240,"t":-9.5,"p":2.5},{"m":"P19","h":252,"t":-9,"p":1.5},{"m":"P19","h":264,"t":-7,"p":1},{"m":"P19","h":276,"t":-5.5,"p":3},{"m":"P19","h":288,"t":-6.5,"p":2},{"m":"P19","h":300,"t":-4,"p":1},{"m":"P19","h":312,"t":-5.5,"p":1.5},{"m":"P19","h":324,"t":-7,"p":2.5},{"m":"P19","h":336,"t":-5.5,"p":1},{"m":"P19","h":348,"t":-6,"p":0.5},{"m":"P19","h":360,"t":-4.5,"p":1},{"m":"P19","h":372,"t":-5,"p":2},{"m":"P19","h":378,"t":-5.5,"p":1.5},
      {"m":"P20","h":0,"t":-7.6},{"m":"P20","h":12,"t":-4.5},{"m":"P20","h":24,"t":-2.9},{"m":"P20","h":36,"t":-2.1},{"m":"P20","h":48,"t":-1.6},{"m":"P20","h":60,"t":-1},{"m":"P20","h":72,"t":-0.1,"p":0},{"m":"P20","h":84,"t":1.2,"p":0},{"m":"P20","h":96,"t":2.8,"p":1},{"m":"P20","h":108,"t":4,"p":2.5},{"m":"P20","h":120,"t":-6,"p":3},{"m":"P20","h":132,"t":-8.5,"p":4},{"m":"P20","h":144,"t":-5,"p":1.5},{"m":"P20","h":156,"t":-3,"p":2},{"m":"P20","h":168,"t":-5.5,"p":1},{"m":"P20","h":180,"t":-4,"p":0.5},{"m":"P20","h":192,"t":-6,"p":2},{"m":"P20","h":204,"t":-8,"p":1.5},{"m":"P20","h":216,"t":-7,"p":3},{"m":"P20","h":228,"t":-4.5,"p":1},{"m":"P20","h":240,"t":-3,"p":0.5},{"m":"P20","h":252,"t":-5.5,"p":2},{"m":"P20","h":264,"t":-4,"p":1},{"m":"P20","h":276,"t":-2,"p":1.5},{"m":"P20","h":288,"t":-3.5,"p":0.5},{"m":"P20","h":300,"t":-5.5,"p":2},{"m":"P20","h":312,"t":-4,"p":1},{"m":"P20","h":324,"t":-3,"p":1.5},{"m":"P20","h":336,"t":-1.5,"p":0.5},{"m":"P20","h":348,"t":-3.5,"p":1},{"m":"P20","h":360,"t":-5,"p":2},{"m":"P20","h":372,"t":-4,"p":0.5},{"m":"P20","h":378,"t":-3.5,"p":1}
    ],
    "special": [
      {"s":"30-Jahres-Mittel","h":0,"t":-1},{"s":"30-Jahres-Mittel","h":12,"t":-0.7},{"s":"30-Jahres-Mittel","h":24,"t":-0.45},{"s":"30-Jahres-Mittel","h":36,"t":-0.6},{"s":"30-Jahres-Mittel","h":48,"t":-0.8},{"s":"30-Jahres-Mittel","h":60,"t":-1.2},{"s":"30-Jahres-Mittel","h":72,"t":-1.75},{"s":"30-Jahres-Mittel","h":84,"t":-2.2},{"s":"30-Jahres-Mittel","h":96,"t":-2.4},{"s":"30-Jahres-Mittel","h":108,"t":-1.7},{"s":"30-Jahres-Mittel","h":120,"t":-1.2},{"s":"30-Jahres-Mittel","h":132,"t":-1.1},{"s":"30-Jahres-Mittel","h":144,"t":-1},{"s":"30-Jahres-Mittel","h":156,"t":-0.9},{"s":"30-Jahres-Mittel","h":168,"t":-0.85},{"s":"30-Jahres-Mittel","h":180,"t":-0.9},{"s":"30-Jahres-Mittel","h":192,"t":-1},{"s":"30-Jahres-Mittel","h":204,"t":-1.4},{"s":"30-Jahres-Mittel","h":216,"t":-1.7},{"s":"30-Jahres-Mittel","h":228,"t":-1.8},{"s":"30-Jahres-Mittel","h":240,"t":-1.9},{"s":"30-Jahres-Mittel","h":252,"t":-1.8},{"s":"30-Jahres-Mittel","h":264,"t":-2},{"s":"30-Jahres-Mittel","h":276,"t":-2.5},{"s":"30-Jahres-Mittel","h":288,"t":-3.1},{"s":"30-Jahres-Mittel","h":300,"t":-3.1},{"s":"30-Jahres-Mittel","h":312,"t":-3.1},{"s":"30-Jahres-Mittel","h":324,"t":-2.9},{"s":"30-Jahres-Mittel","h":336,"t":-2.6},{"s":"30-Jahres-Mittel","h":348,"t":-2.3},{"s":"30-Jahres-Mittel","h":360,"t":-2},{"s":"30-Jahres-Mittel","h":372,"t":-1.7},{"s":"30-Jahres-Mittel","h":378,"t":-1.6},
      {"s":"Kontroll-Lauf","h":0,"t":-7.6},{"s":"Kontroll-Lauf","h":12,"t":-4.5},{"s":"Kontroll-Lauf","h":24,"t":-2.6},{"s":"Kontroll-Lauf","h":36,"t":-1.9},{"s":"Kontroll-Lauf","h":48,"t":-1.3},{"s":"Kontroll-Lauf","h":60,"t":-0.6},{"s":"Kontroll-Lauf","h":72,"t":0.3},{"s":"Kontroll-Lauf","h":84,"t":2},{"s":"Kontroll-Lauf","h":96,"t":4},{"s":"Kontroll-Lauf","h":108,"t":5.8},{"s":"Kontroll-Lauf","h":114,"t":5},{"s":"Kontroll-Lauf","h":120,"t":6.3},{"s":"Kontroll-Lauf","h":126,"t":4},{"s":"Kontroll-Lauf","h":132,"t":-3},{"s":"Kontroll-Lauf","h":144,"t":-5},{"s":"Kontroll-Lauf","h":150,"t":-3.4},{"s":"Kontroll-Lauf","h":156,"t":-0.5},{"s":"Kontroll-Lauf","h":162,"t":-2.9},{"s":"Kontroll-Lauf","h":168,"t":-4.5},{"s":"Kontroll-Lauf","h":180,"t":-3.7},{"s":"Kontroll-Lauf","h":192,"t":-4},{"s":"Kontroll-Lauf","h":204,"t":-2.9},{"s":"Kontroll-Lauf","h":210,"t":-5.5},{"s":"Kontroll-Lauf","h":222,"t":-3},{"s":"Kontroll-Lauf","h":234,"t":-4.5},{"s":"Kontroll-Lauf","h":246,"t":-3.7},{"s":"Kontroll-Lauf","h":258,"t":-3},{"s":"Kontroll-Lauf","h":270,"t":-4.5},{"s":"Kontroll-Lauf","h":282,"t":-2},{"s":"Kontroll-Lauf","h":294,"t":-5.1},{"s":"Kontroll-Lauf","h":300,"t":-7},{"s":"Kontroll-Lauf","h":306,"t":-5.7},{"s":"Kontroll-Lauf","h":318,"t":0},{"s":"Kontroll-Lauf","h":330,"t":-2},{"s":"Kontroll-Lauf","h":342,"t":2.8},{"s":"Kontroll-Lauf","h":360,"t":4.5},{"s":"Kontroll-Lauf","h":366,"t":3.1},{"s":"Kontroll-Lauf","h":378,"t":2.3},
      {"s":"Kontroll-Lauf","h":72,"p":0},{"s":"Kontroll-Lauf","h":84,"p":0},{"s":"Kontroll-Lauf","h":96,"p":0.5},{"s":"Kontroll-Lauf","h":108,"p":2},{"s":"Kontroll-Lauf","h":120,"p":1.5},{"s":"Kontroll-Lauf","h":132,"p":3},{"s":"Kontroll-Lauf","h":144,"p":1},{"s":"Kontroll-Lauf","h":156,"p":2},{"s":"Kontroll-Lauf","h":168,"p":0.5},{"s":"Kontroll-Lauf","h":180,"p":1},{"s":"Kontroll-Lauf","h":192,"p":2.5},{"s":"Kontroll-Lauf","h":204,"p":4},{"s":"Kontroll-Lauf","h":210,"p":2},{"s":"Kontroll-Lauf","h":222,"p":3},{"s":"Kontroll-Lauf","h":234,"p":1},{"s":"Kontroll-Lauf","h":246,"p":2},{"s":"Kontroll-Lauf","h":258,"p":0.5},{"s":"Kontroll-Lauf","h":270,"p":1},{"s":"Kontroll-Lauf","h":282,"p":2.5},{"s":"Kontroll-Lauf","h":288,"p":8.2},{"s":"Kontroll-Lauf","h":294,"p":3.5},{"s":"Kontroll-Lauf","h":306,"p":1},{"s":"Kontroll-Lauf","h":318,"p":0.5},{"s":"Kontroll-Lauf","h":330,"p":1.5},{"s":"Kontroll-Lauf","h":342,"p":0.5},{"s":"Kontroll-Lauf","h":354,"p":1},{"s":"Kontroll-Lauf","h":366,"p":0.5},{"s":"Kontroll-Lauf","h":378,"p":0.3},
      {"s":"GFS-Hauptlauf","h":0,"t":-7.8},{"s":"GFS-Hauptlauf","h":6,"t":-7.1},{"s":"GFS-Hauptlauf","h":18,"t":-3.7},{"s":"GFS-Hauptlauf","h":30,"t":-1.5},{"s":"GFS-Hauptlauf","h":42,"t":-1.2},{"s":"GFS-Hauptlauf","h":60,"t":-1},{"s":"GFS-Hauptlauf","h":72,"t":-0.3},{"s":"GFS-Hauptlauf","h":84,"t":0.9},{"s":"GFS-Hauptlauf","h":90,"t":1.3},{"s":"GFS-Hauptlauf","h":102,"t":0.6},{"s":"GFS-Hauptlauf","h":108,"t":-0.4},{"s":"GFS-Hauptlauf","h":114,"t":2.2},{"s":"GFS-Hauptlauf","h":120,"t":3.4},{"s":"GFS-Hauptlauf","h":126,"t":4.1},{"s":"GFS-Hauptlauf","h":130,"t":3.1},{"s":"GFS-Hauptlauf","h":133,"t":0.6},{"s":"GFS-Hauptlauf","h":136,"t":-2},{"s":"GFS-Hauptlauf","h":141,"t":-3.5},{"s":"GFS-Hauptlauf","h":150,"t":-3.1},{"s":"GFS-Hauptlauf","h":158,"t":-0.5},{"s":"GFS-Hauptlauf","h":168,"t":4.3},{"s":"GFS-Hauptlauf","h":174,"t":2.5},{"s":"GFS-Hauptlauf","h":180,"t":3.8},{"s":"GFS-Hauptlauf","h":187,"t":1.4},{"s":"GFS-Hauptlauf","h":200,"t":0.4},{"s":"GFS-Hauptlauf","h":212,"t":-5.7},{"s":"GFS-Hauptlauf","h":223,"t":-2.6},{"s":"GFS-Hauptlauf","h":236,"t":2.1},{"s":"GFS-Hauptlauf","h":246,"t":-5.1},{"s":"GFS-Hauptlauf","h":259,"t":-2.6},{"s":"GFS-Hauptlauf","h":272,"t":1.2},{"s":"GFS-Hauptlauf","h":284,"t":-1.6},{"s":"GFS-Hauptlauf","h":294,"t":2},{"s":"GFS-Hauptlauf","h":306,"t":2.4},{"s":"GFS-Hauptlauf","h":319,"t":0.6},{"s":"GFS-Hauptlauf","h":331,"t":-1.7},{"s":"GFS-Hauptlauf","h":349,"t":0.8},{"s":"GFS-Hauptlauf","h":359,"t":1.8},{"s":"GFS-Hauptlauf","h":378,"t":-1.4},
      {"s":"GFS-Hauptlauf","h":72,"p":0},{"s":"GFS-Hauptlauf","h":84,"p":0},{"s":"GFS-Hauptlauf","h":96,"p":0.4},{"s":"GFS-Hauptlauf","h":108,"p":0.8},{"s":"GFS-Hauptlauf","h":120,"p":0.5},{"s":"GFS-Hauptlauf","h":126,"p":1.3},{"s":"GFS-Hauptlauf","h":132,"p":2.9},{"s":"GFS-Hauptlauf","h":138,"p":1},{"s":"GFS-Hauptlauf","h":144,"p":0.5},{"s":"GFS-Hauptlauf","h":154,"p":3},{"s":"GFS-Hauptlauf","h":166,"p":0},{"s":"GFS-Hauptlauf","h":178,"p":0.5},{"s":"GFS-Hauptlauf","h":190,"p":2},{"s":"GFS-Hauptlauf","h":206,"p":0.2},{"s":"GFS-Hauptlauf","h":222,"p":0},{"s":"GFS-Hauptlauf","h":234,"p":2.9},{"s":"GFS-Hauptlauf","h":246,"p":2},{"s":"GFS-Hauptlauf","h":258,"p":0},{"s":"GFS-Hauptlauf","h":270,"p":7.5},{"s":"GFS-Hauptlauf","h":280,"p":3.5},{"s":"GFS-Hauptlauf","h":286,"p":0.6},{"s":"GFS-Hauptlauf","h":296,"p":1.3},{"s":"GFS-Hauptlauf","h":306,"p":0},{"s":"GFS-Hauptlauf","h":318,"p":0.3},{"s":"GFS-Hauptlauf","h":330,"p":0},{"s":"GFS-Hauptlauf","h":342,"p":0.2},{"s":"GFS-Hauptlauf","h":354,"p":0},{"s":"GFS-Hauptlauf","h":366,"p":0.5},{"s":"GFS-Hauptlauf","h":378,"p":0.8},
      {"s":"Ensemble-Mittel","h":0,"t":-7.5},{"s":"Ensemble-Mittel","h":6,"t":-6.7},{"s":"Ensemble-Mittel","h":12,"t":-4.7},{"s":"Ensemble-Mittel","h":24,"t":-2.7},{"s":"Ensemble-Mittel","h":36,"t":-1.9},{"s":"Ensemble-Mittel","h":48,"t":-1.5},{"s":"Ensemble-Mittel","h":60,"t":-1.2},{"s":"Ensemble-Mittel","h":72,"t":-0.8},{"s":"Ensemble-Mittel","h":84,"t":0.6},{"s":"Ensemble-Mittel","h":96,"t":2},{"s":"Ensemble-Mittel","h":108,"t":3.4},{"s":"Ensemble-Mittel","h":114,"t":2.7},{"s":"Ensemble-Mittel","h":120,"t":1.6},{"s":"Ensemble-Mittel","h":126,"t":0.5},{"s":"Ensemble-Mittel","h":132,"t":-1},{"s":"Ensemble-Mittel","h":138,"t":-3},{"s":"Ensemble-Mittel","h":144,"t":-4.3},{"s":"Ensemble-Mittel","h":156,"t":-3.8},{"s":"Ensemble-Mittel","h":168,"t":-3.6},{"s":"Ensemble-Mittel","h":180,"t":-4.1},{"s":"Ensemble-Mittel","h":192,"t":-3.6},{"s":"Ensemble-Mittel","h":204,"t":-3.5},{"s":"Ensemble-Mittel","h":216,"t":-5.6},{"s":"Ensemble-Mittel","h":228,"t":-5.5},{"s":"Ensemble-Mittel","h":240,"t":-5.6},{"s":"Ensemble-Mittel","h":252,"t":-4.5},{"s":"Ensemble-Mittel","h":264,"t":-4.2},{"s":"Ensemble-Mittel","h":276,"t":-3.4},{"s":"Ensemble-Mittel","h":288,"t":-3},{"s":"Ensemble-Mittel","h":300,"t":-3},{"s":"Ensemble-Mittel","h":312,"t":-2.9},{"s":"Ensemble-Mittel","h":324,"t":-3.7},{"s":"Ensemble-Mittel","h":336,"t":-3.3},{"s":"Ensemble-Mittel","h":348,"t":-3.2},{"s":"Ensemble-Mittel","h":360,"t":-3.2},{"s":"Ensemble-Mittel","h":372,"t":-2.5},{"s":"Ensemble-Mittel","h":378,"t":-2.2},
      {"s":"Ensemble-Mittel","h":0,"p":0},{"s":"Ensemble-Mittel","h":6,"p":0.3},{"s":"Ensemble-Mittel","h":12,"p":0.35},{"s":"Ensemble-Mittel","h":18,"p":0},{"s":"Ensemble-Mittel","h":72,"p":0},{"s":"Ensemble-Mittel","h":84,"p":0.2},{"s":"Ensemble-Mittel","h":96,"p":0.9},{"s":"Ensemble-Mittel","h":102,"p":1.8},{"s":"Ensemble-Mittel","h":108,"p":2.4},{"s":"Ensemble-Mittel","h":114,"p":2.1},{"s":"Ensemble-Mittel","h":120,"p":1},{"s":"Ensemble-Mittel","h":126,"p":1.5},{"s":"Ensemble-Mittel","h":132,"p":1.6},{"s":"Ensemble-Mittel","h":144,"p":1.9},{"s":"Ensemble-Mittel","h":150,"p":2.6},{"s":"Ensemble-Mittel","h":156,"p":3},{"s":"Ensemble-Mittel","h":162,"p":2.5},{"s":"Ensemble-Mittel","h":174,"p":1.6},{"s":"Ensemble-Mittel","h":180,"p":2},{"s":"Ensemble-Mittel","h":192,"p":1.6},{"s":"Ensemble-Mittel","h":204,"p":2},{"s":"Ensemble-Mittel","h":222,"p":1},{"s":"Ensemble-Mittel","h":228,"p":1.3},{"s":"Ensemble-Mittel","h":240,"p":0.7},{"s":"Ensemble-Mittel","h":252,"p":0.7},{"s":"Ensemble-Mittel","h":258,"p":1.3},{"s":"Ensemble-Mittel","h":270,"p":1},{"s":"Ensemble-Mittel","h":288,"p":1.6},{"s":"Ensemble-Mittel","h":294,"p":1.3},{"s":"Ensemble-Mittel","h":306,"p":0.6},{"s":"Ensemble-Mittel","h":318,"p":1.6},{"s":"Ensemble-Mittel","h":330,"p":1},{"s":"Ensemble-Mittel","h":348,"p":1},{"s":"Ensemble-Mittel","h":354,"p":0.6},{"s":"Ensemble-Mittel","h":366,"p":1.6},{"s":"Ensemble-Mittel","h":378,"p":1.6}
    ]
  },
  "layer": [
    {
      "encoding": {
        "x": {
          "field": "h", "type": "quantitative",
          "scale": {"domain": [0, 378], "nice": false, "zero": false},
          "axis": {
            "orient": "bottom", "values": [24, 72, 120, 168, 216, 264, 312, 360],
            "labelExpr": "datum.value == 24 ? ['15JAN', '2012'] : (14 + datum.value / 24) + 'JAN'",
            "labelFontSize": 10.5, "labelLineHeight": 11, "labelPadding": 1, "grid": true,
            "title": "Daten: Ensembles des GFS von NCEP", "titleFontSize": 10.5,
            "titleAlign": "left", "titleBaseline": "alphabetic", "titleX": 1, "titleY": 49
          }
        },
        "y": {
          "field": "t", "type": "quantitative",
          "scale": {"domain": [-30, 30], "nice": false},
          "axis": {
            "orient": "left", "values": [-30, -25, -20, -15, -10, -5, 0, 5, 10, 15, 20, 25, 30], "grid": true,
            "title": "De_Bilt\u00a0\u00a0\u00a0\u00a0Lat: 52 Lon: 5", "titleFontSize": 15, "titleAngle": 0,
            "titleAlign": "left", "titleBaseline": "alphabetic", "titleX": -73, "titleY": -38.5
          }
        }
      },
      "layer": [
        {
          "data": {"name": "members"},
          "transform": [{"filter": "isValid(datum.t)"}],
          "mark": {"type": "line", "strokeWidth": 1, "clip": true},
          "encoding": {
            "color": {
              "field": "m", "type": "nominal",
              "scale": {
                "domain": ["P0","P1","P2","P3","P4","P5","P6","P7","P8","P9","P10","P11","P12","P13","P14","P15","P16","P17","P18","P19","P20"],
                "range": ["#2424d8","#1848f8","#2070f0","#2094f0","#20b8f0","#20d8e0","#20e0a8","#20e088","#28e860","#30f040","#28ff20","#ffff20","#ffe828","#ffd020","#ffb820","#ffa020","#f88820","#f06c20","#e85020","#e03018","#c81818"]
              },
              "legend": {
                "orient": "none", "legendX": -102, "legendY": 49, "direction": "vertical",
                "title": null, "symbolSize": 0, "symbolOpacity": 0, "symbolStrokeWidth": 0,
                "labelFontSize": 12, "labelOffset": 0, "rowPadding": 6.15, "padding": 0, "symbolLimit": 30,
                "labelColor": {"expr": "scale('color', datum.value)"}
              }
            }
          }
        },
        {
          "data": {"name": "special"},
          "transform": [{"filter": "isValid(datum.t)"}],
          "mark": {"type": "line", "clip": true},
          "encoding": {
            "stroke": {
              "field": "s", "type": "nominal",
              "scale": {"domain": ["30-Jahres-Mittel", "Kontroll-Lauf", "GFS-Hauptlauf", "Ensemble-Mittel"], "range": ["#ff0000", "#2020ff", "#10d010", "#ffffff"]},
              "legend": {
                "orient": "none", "legendX": 436, "legendY": 1, "direction": "vertical", "title": null,
                "symbolType": "M0.17,0H8.17", "symbolSize": 144, "symbolStrokeWidth": 3,
                "labelOffset": 52, "labelFontSize": 11, "labelColor": "white", "rowPadding": -2.8,
                "padding": 7, "strokeColor": "white", "fillColor": "black"
              }
            },
            "strokeWidth": {
              "field": "s", "type": "ordinal",
              "scale": {"domain": ["30-Jahres-Mittel", "Kontroll-Lauf", "GFS-Hauptlauf", "Ensemble-Mittel"], "range": [4.5, 2.5, 3, 3]},
              "legend": null
            }
          }
        }
      ]
    },
    {
      "encoding": {
        "x": {
          "field": "h", "type": "quantitative",
          "scale": {"domain": [0, 378], "nice": false, "zero": false},
          "axis": {
            "orient": "top", "labels": false, "ticks": false, "domain": false, "grid": false,
            "title": "Wetterzentrale", "titleFontSize": 14, "titleAlign": "left",
            "titleBaseline": "alphabetic", "titleX": 510, "titleY": 559
          }
        },
        "y": {
          "field": "p", "type": "quantitative",
          "scale": {"domain": [0, 50], "nice": false},
          "axis": {
            "orient": "right", "values": [0, 5, 10, 15, 20, 25, 30, 35, 40, 45, 50], "grid": false,
            "title": "Sat,14JAN2012\u00a0\u00a0\u00a000Z", "titleFontSize": 15, "titleAngle": 0,
            "titleAlign": "left", "titleBaseline": "alphabetic", "titleX": -219, "titleY": -38.5
          }
        }
      },
      "layer": [
        {
          "data": {"name": "members"},
          "transform": [{"filter": "isValid(datum.p)"}],
          "mark": {"type": "line", "strokeWidth": 1, "clip": true},
          "encoding": {"color": {"field": "m", "type": "nominal"}}
        },
        {
          "data": {"name": "special"},
          "transform": [{"filter": "isValid(datum.p)"}],
          "mark": {"type": "line", "clip": true},
          "encoding": {
            "stroke": {"field": "s", "type": "nominal"},
            "strokeWidth": {"field": "s", "type": "ordinal", "legend": null}
          }
        }
      ]
    }
  ],
  "resolve": {
    "scale": {"x": "independent", "y": "independent"},
    "axis": {"x": "independent", "y": "independent"}
  }
}
